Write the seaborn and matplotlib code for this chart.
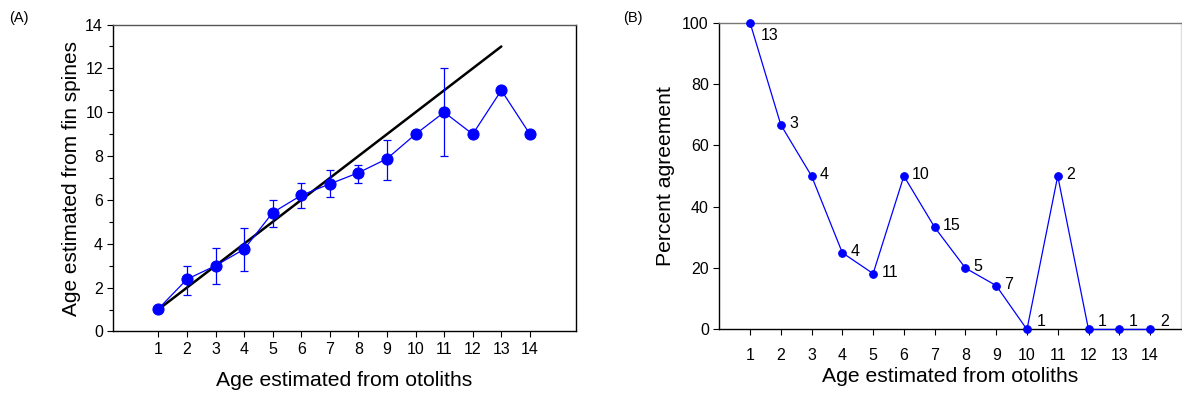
import numpy as np
import pandas as pd
import matplotlib
matplotlib.use("Agg")
import matplotlib.pyplot as plt
import seaborn as sns

# ---- data ----
otolith_age = [1, 2, 3, 4, 5, 6, 7, 8, 9, 10, 11, 12, 13, 14]
spine_age_mean = [1.03, 2.38, 3.0, 3.75, 5.42, 6.21, 6.73, 7.24, 7.88, 9.0, 10.0, 9.0, 11.0, 9.0]
spine_err_low = [1.03, 1.68, 2.18, 2.77, 4.75, 5.62, 6.13, 6.78, 6.93, 9.0, 8.0, 9.0, 11.0, 9.0]
spine_err_high = [1.03, 3.0, 3.8, 4.74, 5.98, 6.78, 7.35, 7.58, 8.75, 9.0, 12.0, 9.0, 11.0, 9.0]
one_to_one = [1, 13]

pct_agreement = [100, 66.7, 50, 25, 18.2, 50, 33.3, 20, 14.3, 0, 50, 0, 0, 0]
n_fish = [13, 3, 4, 4, 11, 10, 15, 5, 7, 1, 2, 1, 1, 2]

x_ticks = list(range(1, 15))
y_ticks_a = [0, 2, 4, 6, 8, 10, 12, 14]
y_ticks_b = [0, 20, 40, 60, 80, 100]

panel_labels = ["(A)", "(B)"]
x_label = "Age estimated from otoliths"
y_label_a = "Age estimated from fin spines"
y_label_b = "Percent agreement"

# ---- style ----
sns.set_style("ticks")
plt.rcParams["font.family"] = ["Liberation Sans", "DejaVu Sans"]
plt.rcParams["xtick.direction"] = "out"
plt.rcParams["ytick.direction"] = "out"
plt.rcParams["text.color"] = "black"
plt.rcParams["axes.labelcolor"] = "black"
plt.rcParams["xtick.color"] = "black"
plt.rcParams["ytick.color"] = "black"
plt.rcParams["xtick.labelcolor"] = "black"
plt.rcParams["ytick.labelcolor"] = "black"

blue = "#0000ff"
fig = plt.figure(figsize=(11.82, 3.96), dpi=100)
axA = fig.add_axes([0.096, 0.163, 0.391, 0.775])
axB = fig.add_axes([0.6085, 0.168, 0.3905, 0.775])

dfA = pd.DataFrame({"x": otolith_age, "y": spine_age_mean})
dfB = pd.DataFrame({"x": otolith_age, "y": pct_agreement, "n": n_fish})

# ---- Panel A ----
axA.plot(one_to_one, one_to_one, color="black", lw=1.8, zorder=2)
yerr = [np.array(spine_age_mean) - np.array(spine_err_low),
        np.array(spine_err_high) - np.array(spine_age_mean)]
axA.errorbar(otolith_age, spine_age_mean, yerr=yerr, fmt="none",
             ecolor=blue, elinewidth=0.9, capsize=3, capthick=0.9, zorder=3)
sns.lineplot(data=dfA, x="x", y="y", ax=axA, color=blue, lw=0.9,
             marker="o", markersize=8, markeredgecolor=blue, zorder=4)
axA.set_xlim(-0.57, 15.6)
axA.set_ylim(0, 14)
axA.set_xticks(x_ticks)
axA.set_yticks(y_ticks_a)
axA.set_yticks(range(1, 14, 2), minor=True)
axA.tick_params(axis="both", which="major", labelsize=11.5, length=4, width=0.8, color="black")
axA.tick_params(axis="y", which="minor", length=3, width=0.8, color="black")
axA.set_xlabel(x_label, fontsize=15.2, labelpad=10)
axA.set_ylabel(y_label_a, fontsize=15.0, labelpad=3)
for s in axA.spines.values():
    s.set_color("black")
    s.set_linewidth(1.0)
axA.spines["top"].set_color("#555555")

# ---- Panel B ----
sns.lineplot(data=dfB, x="x", y="y", ax=axB, color=blue, lw=0.9,
             marker="o", markersize=5.5, markeredgecolor=blue, zorder=4,
             clip_on=False)
for xv, yv, nv in zip(otolith_age, pct_agreement, n_fish):
    if yv >= 100:
        off = (8, -9)
    elif yv <= 0:
        off = (7, 6)
    else:
        off = (6, 1)
    axB.annotate(str(nv), (xv, yv), xytext=off, textcoords="offset points",
                 ha="left", va="center", fontsize=11.5)
axB.set_xlim(0, 15)
axB.set_ylim(0, 100)
axB.set_xticks(x_ticks)
axB.set_yticks(y_ticks_b)
axB.tick_params(axis="both", which="major", labelsize=11.5, length=4, width=0.8, color="black")
axB.tick_params(axis="x", pad=9)
axB.set_xlabel(x_label, fontsize=15.2, labelpad=3)
axB.set_ylabel(y_label_b, fontsize=15.2, labelpad=5)
for s in axB.spines.values():
    s.set_linewidth(1.0)
axB.spines["left"].set_color("black")
axB.spines["bottom"].set_color("black")
axB.spines["top"].set_color("#777777")
axB.spines["right"].set_color("#dddddd")

fig.text(0.008, 0.955, panel_labels[0], fontsize=10.5, ha="left", va="center")
fig.text(0.527, 0.955, panel_labels[1], fontsize=10.5, ha="left", va="center")

fig.savefig("out.png", dpi=100)
